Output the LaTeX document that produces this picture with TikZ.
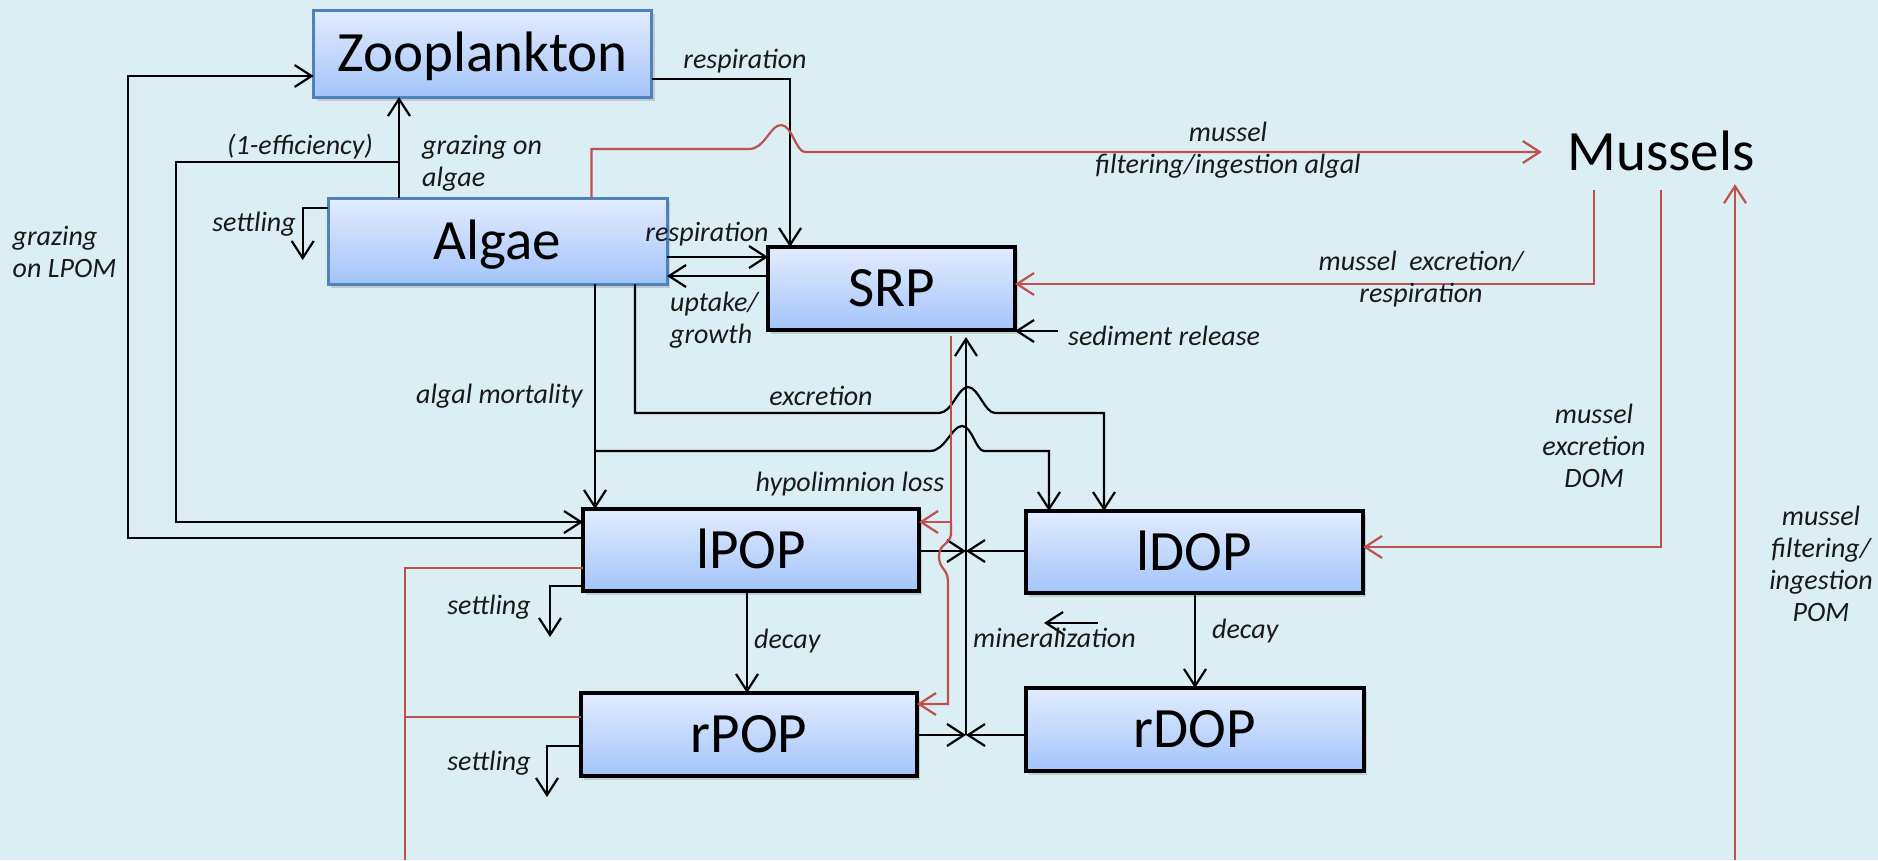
\documentclass[tikz,border=0pt]{standalone}
\usepackage{fontspec}
\setmainfont{Carlito}
\usetikzlibrary{arrows.meta,shadows}
\definecolor{bg}{RGB}{219,238,243}
\definecolor{mred}{RGB}{192,80,77}
\definecolor{bblue}{RGB}{79,129,189}
\definecolor{ftop}{RGB}{226,236,255}
\definecolor{fbot}{RGB}{163,196,250}
\definecolor{txt}{RGB}{25,25,25}
\begin{document}
\begin{tikzpicture}[x=1pt,y=-1pt,
 box/.style={top color=ftop,bottom color=fbot,draw=black,line width=4.5pt,inner sep=0pt,outer sep=0pt,
   font=\fontsize{57}{62}\selectfont,text height=36pt,text depth=0pt,
   drop shadow={opacity=0.3,shadow xshift=3pt,shadow yshift=-4pt}},
 bluebox/.style={box,draw=bblue,line width=3pt},
 lbl/.style={font=\fontsize{28}{32}\selectfont\itshape,inner sep=0pt,align=center,text=txt},
 flow/.style={draw=black,line width=2.2pt,-{Straight Barb[length=17pt,width=22pt]}},
 plain/.style={draw=black,line width=2.2pt},
 rflow/.style={flow,draw=mred},
 rline/.style={plain,draw=mred}
]
\useasboundingbox (0,0) rectangle (1878,860);
\fill[bg] (0,0) rectangle (1878,860);

% boxes
\node[bluebox,minimum width=338pt,minimum height=87pt] (zoo) at (482.6,53.5) {Zooplankton};
\node[bluebox,minimum width=339pt,minimum height=86pt] (algae) at (497.5,241) {Algae};
\node[box,minimum width=247pt,minimum height=83pt] (srp) at (891.5,288.5) {SRP};
\node[box,minimum width=336pt,minimum height=82pt] (lpop) at (751,550) {lPOP};
\node[box,minimum width=337pt,minimum height=82pt] (ldop) at (1194.5,552) {lDOP};
\node[box,minimum width=336pt,minimum height=83pt] (rpop) at (749,734.5) {rPOP};
\node[box,minimum width=338pt,minimum height=83pt] (rdop) at (1195,729.5) {rDOP};
\node[font=\fontsize{57}{62}\selectfont,text height=36pt,text depth=0pt,inner sep=0pt,minimum width=238pt,minimum height=76pt] (mus) at (1661,152) {Mussels};

% helper coordinates
\coordinate (zr) at (790,79);
\coordinate (ga) at (399,162);
\coordinate (ef) at (176,522);
\coordinate (lp) at (128,538);
\coordinate (lq) at (128,76);
\coordinate (as) at (302.7,208);
\coordinate (ar) at (0,257);
\coordinate (au) at (0,276);
\coordinate (am) at (595,451);
\coordinate (b1) at (1049,451);
\coordinate (ex) at (635,413);
\coordinate (b2) at (1104,413);
\coordinate (sr) at (1058,331);
\coordinate (j1) at (966,551);
\coordinate (j2) at (966,735);
\coordinate (d1) at (747,0);
\coordinate (d2) at (1195,0);
\coordinate (s1) at (550,586);
\coordinate (s2) at (547,746);
\coordinate (mz1) at (1098,623);
\coordinate (mz2) at (1044,623);
\coordinate (fa) at (591.5,149);
\coordinate (m1) at (1594,284);
\coordinate (m2) at (1661,547);
\coordinate (m3) at (1735,860);
\coordinate (pa) at (405,568);
\coordinate (pb) at (405,717);
\coordinate (pc) at (405,860);
\coordinate (h0) at (951,338);
\coordinate (h1) at (951,522);
\coordinate (h2) at (948,704);

% black connectors
\draw[flow] (zoo.east |- zr) -| (srp.north -| zr);
\draw[flow] (algae.north -| ga) -- (zoo.south -| ga);
\draw[flow] (ga) -| (ef) -- (lpop.west |- ef);
\draw[flow] (lpop.west |- lp) -- (lp) -- (lq) -- (zoo.west |- lq);
\draw[flow] (algae.west |- as) -- (as) -- ++(0,52);
\draw[flow] (algae.east |- ar) -- (srp.west |- ar);
\draw[flow] (srp.west |- au) -- (algae.east |- au);
\draw[flow] (algae.south -| am) -- (lpop.north -| am);
\draw[flow] (am) -- (930,451) .. controls (945,451) and (952,426) .. (962,426) .. controls (972,426) and (976,451) .. (984,451) -- (b1) -- (ldop.north -| b1);
\draw[flow] (algae.south -| ex) -- (ex) -- (939,413) .. controls (952,413) and (958,387) .. (968,387) .. controls (978,387) and (985,413) .. (995,413) -- (b2) -- (ldop.north -| b2);
\draw[flow] (sr) -- (srp.east |- sr);
\draw[flow,shorten >=7pt] (j2) -- (srp.south -| j2);
\draw[flow] (lpop.east |- j1) -- (j1);
\draw[flow] (ldop.west |- j1) -- (j1);
\draw[flow] (rpop.east |- j2) -- (j2);
\draw[flow] (rdop.west |- j2) -- (j2);
\draw[flow] (lpop.south -| d1) -- (rpop.north -| d1);
\draw[flow] (ldop.south -| d2) -- (rdop.north -| d2);
\draw[flow] (lpop.west |- s1) -- (s1) -- ++(0,51);
\draw[flow] (rpop.west |- s2) -- (s2) -- ++(0,51);
\draw[flow] (mz1) -- (mz2);

% red connectors
\draw[rflow] (algae.north -| fa) -- (fa) -- (749,149) .. controls (765,149) and (770,125) .. (781,125) .. controls (792,125) and (796,152) .. (805,152) -- (mus.west);
\draw[rflow] (mus.south -| m1) -- (m1) -- (srp.east |- m1);
\draw[rflow] (mus.south -| m2) -- (m2) -- (ldop.east |- m2);
\draw[rflow,shorten >=-6pt] (m3) -- (mus.south -| m3);
\draw[rline] (lpop.west |- pa) -- (pa) -- (pc);
\draw[rline] (rpop.west |- pb) -- (pb);
\draw[rflow,shorten <=6pt] (srp.south -| h0) -- (h1) -- (lpop.east |- h1);
\draw[rflow] (h1) -- (951,533) .. controls (951,545) and (939,543) .. (939,556) .. controls (939,570) and (948,568) .. (948,582) -- (h2) -- (rpop.east |- h2);

% labels
\node[lbl] (l1) at (745,61) {respiration};
\node[lbl] (l2) at (300,147) {(1-efficiency)};
\node[lbl,align=left,anchor=west] (l3) at (422,163) {grazing on\\algae};
\node[lbl,align=left,anchor=west] (l4) at (12.5,252) {grazing\\on LPOM};
\node[lbl,anchor=east] (l5) at (296,224) {settling};
\node[lbl] (l6) at (707,234) {respiration};
\node[lbl,align=left,anchor=west] (l7) at (670,320) {uptake/\\growth};
\node[lbl,anchor=west] (l8) at (1068,336) {sediment release};
\node[lbl] (l9) at (1228,150) {mussel\\filtering/ingestion algal};
\node[lbl] (l10) at (1421,279) {mussel\ \ excretion/\\respiration};
\node[lbl,anchor=east] (l11) at (583,396) {algal mortality};
\node[lbl] (l12) at (821,396) {excretion};
\node[lbl] (l13) at (850,484) {hypolimnion loss};
\node[lbl] (l14) at (1594,446) {mussel\\excretion\\DOM};
\node[lbl] (l15) at (1821,564) {mussel\\filtering/\\ingestion\\POM};
\node[lbl,anchor=east] (l16) at (531,607) {settling};
\node[lbl,anchor=east] (l17) at (531,763) {settling};
\node[lbl,anchor=west] (l18) at (754,641) {decay};
\node[lbl,anchor=west] (l19) at (1212,631) {decay};
\node[lbl,anchor=west] (l20) at (973,638) {mineralization};
\end{tikzpicture}
\end{document}
